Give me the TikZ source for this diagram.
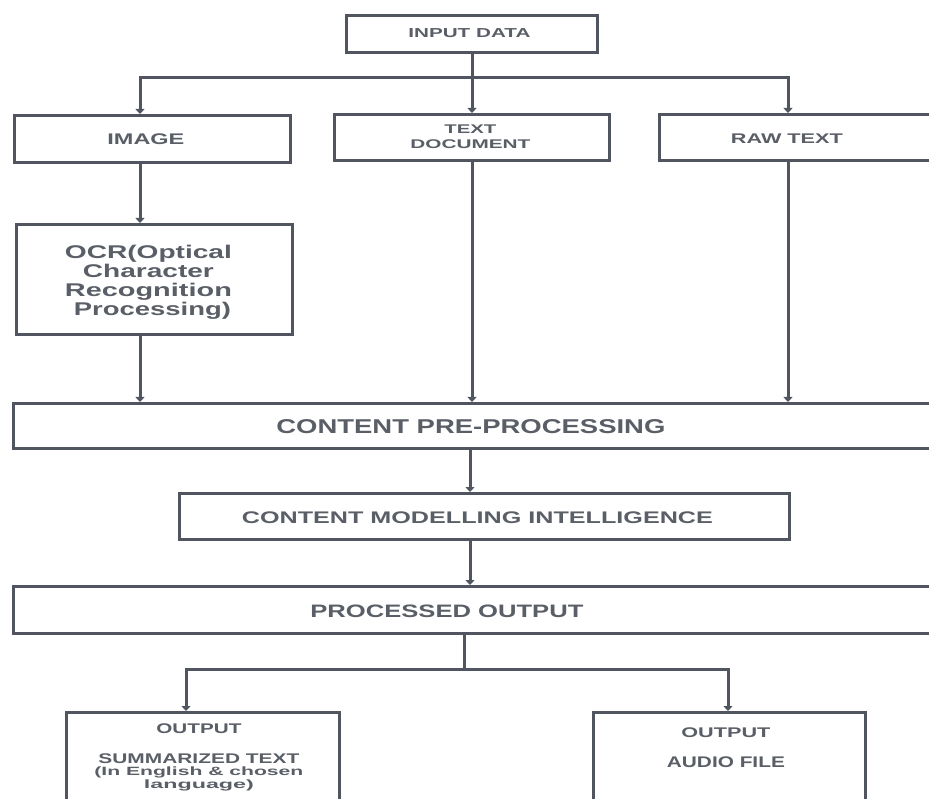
\documentclass[tikz,border=0pt]{standalone}
\usepackage{fontspec}
\setmainfont{Liberation Sans}
\usepackage{graphicx}
\usetikzlibrary{arrows.meta}
\definecolor{bc}{HTML}{50555F}
\definecolor{tc}{HTML}{5A5E66}
\newcommand\tline[3]{\resizebox{#1pt}{\height}{\fontsize{#2pt}{#2pt}\selectfont\bfseries #3}}
\newcommand\tstack[2]{\vtop{\baselineskip=#1pt\lineskiplimit=-200pt\lineskip=0pt\halign{\hfil##\hfil\cr#2\crcr}}}
\tikzset{
  box/.style={draw=bc, line width=2.8pt, fill=white, inner sep=0pt, anchor=north west, text=tc},
  arr/.style={draw=bc, line width=3pt, line join=miter, -{Triangle[length=5pt,width=9pt]}},
  arrboth/.style={draw=bc, line width=3pt, line join=miter, {Triangle[length=5pt,width=9pt]}-{Triangle[length=5pt,width=9pt]}},
  plain/.style={draw=bc, line width=3pt}
}
\begin{document}
\begin{tikzpicture}[x=1pt,y=-1pt]
\clip (0,0) rectangle (929,799);
\fill[white] (0,0) rectangle (929,799);

\node[box, minimum width=251pt, text height=22pt, text depth=15pt] (in) at (345,14)
  {\kern-5pt\tline{122}{13}{INPUT DATA}};
\node[box, minimum width=276pt, text height=29.3pt, text depth=17.7pt] (img) at (13,114)
  {\kern-13pt\tline{77}{15.4}{IMAGE}};
\node[box, minimum width=276pt, text height=33.7pt, text depth=76.3pt] (ocr) at (15,223)
  {\kern-12pt\tstack{19.2}{\tline{167}{18.4}{OCR(Optical}\cr
   \tline{131}{18.4}{Character}\cr
   \tline{167}{18.4}{Recognition}\cr
   \kern8pt\tline{157}{18.4}{Processing)}}};
\node[box, minimum width=275pt, text height=19.3pt, text depth=26.7pt] (doc) at (333,113)
  {\kern-3pt\tstack{15}{\tline{52}{12.6}{TEXT}\cr\tline{120}{12.6}{DOCUMENT}}};
\node[box, minimum width=277pt, text height=29.3pt, text depth=16.7pt] (raw) at (658,113)
  {\kern-22pt\tline{112}{14}{RAW TEXT}};
\node[box, minimum width=923pt, text height=30pt, text depth=15pt] (pre) at (12,402)
  {\kern-8pt\tline{389}{20}{CONTENT PRE-PROCESSING}};
\node[box, minimum width=610pt, text height=30pt, text depth=16pt] (cmi) at (178,492)
  {\kern-14pt\tline{471}{16.8}{CONTENT MODELLING INTELLIGENCE}};
\node[box, minimum width=923pt, text height=31pt, text depth=16pt] (po) at (12,585)
  {\kern-56pt\tline{273}{18}{PROCESSED OUTPUT}};
\node[box, minimum width=273pt, text height=20.7pt, text depth=120pt] (out1) at (65,711)
  {\kern-8pt\tstack{12.6}{\tline{85}{14}{OUTPUT}\cr\noalign{\vskip 17.4pt}
   \tline{201}{14}{SUMMARIZED TEXT}\cr
   \tline{209}{12}{(In English \& chosen}\cr
   \tline{110}{12}{language)}}};
\node[box, minimum width=272pt, text height=25pt, text depth=120pt] (out2) at (592,711)
  {\kern-7pt\tstack{30}{\tline{89}{14}{OUTPUT}\cr\tline{118}{15.4}{AUDIO FILE}}};

\coordinate (split) at (472,78);
\coordinate (sl) at (140,78);
\coordinate (sr) at (788,78);
\coordinate (mid) at (470,0);
\coordinate (om) at (464,669);
\coordinate (ol) at (186,669);
\coordinate (or) at (728,669);

\draw[arr] (in.south -| split) -- (doc.north -| split);
\draw[arrboth] (img.north -| sl) -- (sl) -- (sr) -- (raw.north -| sr);
\draw[arr] (img.south -| sl) -- (ocr.north -| sl);
\draw[arr] (ocr.south -| sl) -- (pre.north -| sl);
\draw[arr] (doc.south -| split) -- (pre.north -| split);
\draw[arr] (raw.south -| sr) -- (pre.north -| sr);
\draw[arr] (pre.south -| mid) -- (cmi.north -| mid);
\draw[arr] (cmi.south -| mid) -- (po.north -| mid);
\draw[plain] (po.south -| om) -- (om);
\draw[arrboth] (out1.north -| ol) -- (ol) -- (or) -- (out2.north -| or);
\end{tikzpicture}
\end{document}
